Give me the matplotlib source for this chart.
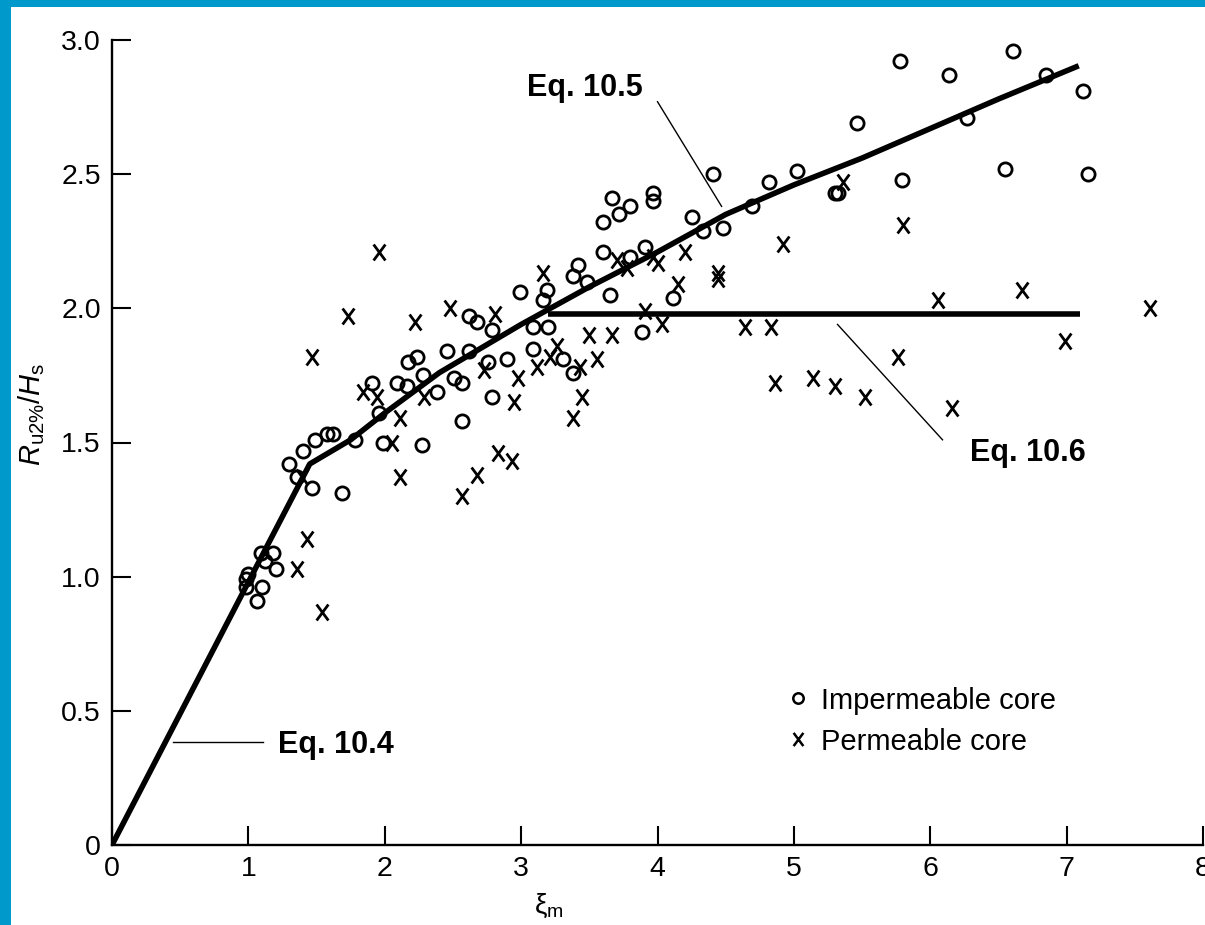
import matplotlib.pyplot as plt
from matplotlib.path import Path
from matplotlib.patches import Rectangle
from matplotlib.lines import Line2D

plt.rcParams['font.family'] = ['Liberation Sans', 'DejaVu Sans']
plt.rcParams['mathtext.fontset'] = 'custom'
plt.rcParams['mathtext.rm'] = 'Liberation Sans'
plt.rcParams['mathtext.it'] = 'Liberation Sans:italic'

# impermeable core runs (circles)
imp_x = [0.98, 1.00, 1.06, 1.10, 1.09, 1.18, 1.20, 0.98, 1.12, 1.30, 1.36, 1.47, 1.40, 1.49,
         1.58, 1.62, 1.69, 1.96, 1.91, 2.09, 2.16, 2.17, 2.24, 2.28, 2.46, 2.62, 1.99, 2.27,
         2.57, 2.57, 2.79, 2.76, 2.90, 2.62, 2.68, 2.79, 2.99, 3.19, 3.16, 3.09, 3.20, 3.09,
         3.31, 3.38, 3.42, 3.38, 3.48, 3.65, 3.60, 3.80, 3.91, 3.60, 3.67, 3.72, 3.80, 3.97,
         3.97, 4.11, 3.89, 4.25, 4.33, 4.48, 4.41, 4.69, 4.82, 5.02, 5.32, 5.30, 5.46, 5.78,
         5.79, 6.14, 6.27, 6.55, 6.61, 6.85, 7.12, 7.16, 1.78, 2.38, 2.51]
imp_y = [0.99, 1.01, 0.91, 0.96, 1.09, 1.09, 1.03, 0.96, 1.06, 1.42, 1.37, 1.33, 1.47, 1.51,
         1.53, 1.53, 1.31, 1.61, 1.72, 1.72, 1.71, 1.80, 1.82, 1.75, 1.84, 1.84, 1.50, 1.49,
         1.72, 1.58, 1.67, 1.80, 1.81, 1.97, 1.95, 1.92, 2.06, 2.07, 2.03, 1.93, 1.93, 1.85,
         1.81, 1.76, 2.16, 2.12, 2.10, 2.05, 2.21, 2.19, 2.23, 2.32, 2.41, 2.35, 2.38, 2.43,
         2.40, 2.04, 1.91, 2.34, 2.29, 2.30, 2.50, 2.38, 2.47, 2.51, 2.43, 2.43, 2.69, 2.92,
         2.48, 2.87, 2.71, 2.52, 2.96, 2.87, 2.81, 2.50, 1.51, 1.69, 1.74]

# permeable core runs (crosses)
perm_x = [1.47, 1.73, 1.96, 2.22, 2.48, 2.81, 3.16, 1.84, 1.94, 2.11, 2.05, 2.11, 2.68, 2.83,
          2.93, 2.95, 2.98, 2.73, 3.26, 3.12, 2.57, 3.45, 3.38, 3.70, 3.78, 3.97, 4.00, 4.20,
          4.44, 4.44, 4.15, 3.50, 3.67, 3.91, 4.03, 4.64, 4.83, 4.92, 5.36, 5.80, 6.06, 6.67,
          7.61, 6.99, 5.76, 4.86, 5.14, 5.30, 5.52, 6.16, 1.43, 1.36, 1.54, 1.39, 2.29, 3.43,
          3.56, 3.21]
perm_y = [1.82, 1.97, 2.21, 1.95, 2.00, 1.98, 2.13, 1.69, 1.67, 1.59, 1.50, 1.37, 1.38, 1.46,
          1.43, 1.65, 1.74, 1.77, 1.86, 1.78, 1.30, 1.67, 1.59, 2.18, 2.15, 2.19, 2.17, 2.21,
          2.13, 2.11, 2.09, 1.90, 1.90, 1.99, 1.94, 1.93, 1.93, 2.24, 2.47, 2.31, 2.03, 2.07,
          2.00, 1.88, 1.82, 1.72, 1.74, 1.71, 1.67, 1.63, 1.14, 1.03, 0.87, 1.37, 1.67, 1.78,
          1.81, 1.82]

# Eq. 10.4 / 10.5 curve (plunging then surging branch)
curve_x = [0, 1.0, 1.45, 1.75, 2.0, 2.4, 3.0, 3.5, 4.0, 4.5, 5.0, 5.5, 6.0, 6.5, 7.07]
curve_y = [0, 0.98, 1.42, 1.51, 1.61, 1.76, 1.94, 2.08, 2.21, 2.35, 2.46, 2.56, 2.67, 2.78, 2.90]

# Eq. 10.6 upper limit for permeable core
limit_x = [3.2, 7.1]
limit_y = [1.98, 1.98]

xticks = [0, 1, 2, 3, 4, 5, 6, 7, 8]
yticks = [0, 0.5, 1.0, 1.5, 2.0, 2.5, 3.0]
ytick_labels = ['0', '0.5', '1.0', '1.5', '2.0', '2.5', '3.0']

W, H = 1205, 925
fig = plt.figure(figsize=(W / 100, H / 100), dpi=100, facecolor='#0099cc')
# white page inside the blue frame
fig.patches.append(Rectangle((11 / W, 0), 1, 1 - 7 / H, transform=fig.transFigure,
                             facecolor='white', edgecolor='none', zorder=-5))
ax = fig.add_axes([112 / W, 80 / H, 1091 / W, 805 / H])
ax.set_facecolor('none')

cross = Path([(-0.37, -0.5), (0.37, 0.5), (-0.37, 0.5), (0.37, -0.5)],
             [Path.MOVETO, Path.LINETO, Path.MOVETO, Path.LINETO])

ax.plot(imp_x, imp_y, linestyle='none', marker='o', ms=9.5, mfc='none', mec='black',
        mew=2.0, zorder=3)
ax.plot(perm_x, perm_y, linestyle='none', marker=cross, ms=11.5, mec='black',
        mew=2.0, zorder=3)
ax.plot(curve_x, curve_y, color='black', lw=4.0, solid_joinstyle='round', zorder=4)
ax.plot(limit_x, limit_y, color='black', lw=4.0, solid_capstyle='butt', zorder=4)

# equation labels with leader lines
ax.plot([0.45, 1.11], [0.385, 0.385], color='black', lw=1)
ax.text(1.22, 0.373, 'Eq. 10.4', fontsize=22, fontweight='bold', va='center')
ax.plot([4.0, 4.47], [2.77, 2.38], color='black', lw=1)
ax.text(3.47, 2.82, 'Eq. 10.5', fontsize=22, fontweight='bold', va='center', ha='center')
ax.plot([5.32, 6.09], [1.94, 1.51], color='black', lw=1)
ax.text(6.29, 1.46, 'Eq. 10.6', fontsize=22, fontweight='bold', va='center')

handles = [Line2D([], [], linestyle='none', marker='o', ms=7.5, mfc='none', mec='black', mew=1.8),
           Line2D([], [], linestyle='none', marker=cross, ms=9.5, mec='black', mew=1.8)]
ax.legend(handles, ['Impermeable core', 'Permeable core'], loc='upper left',
          bbox_to_anchor=(0.606, 0.215), frameon=False, fontsize=21, borderpad=0,
          handlelength=0.7, handletextpad=0.45, labelspacing=0.45)

ax.set_xlim(0, 8)
ax.set_ylim(0, 3)
ax.set_xticks(xticks)
ax.set_yticks(yticks)
ax.set_yticklabels(ytick_labels)
ax.tick_params(direction='in', length=14, width=1.5, labelsize=20.5, pad=8)
for side in ['top', 'right']:
    ax.spines[side].set_visible(False)
for side in ['left', 'bottom']:
    ax.spines[side].set_linewidth(1.7)

ax.set_ylabel(r'$R_{\mathrm{u2\%}}/H_{\mathrm{s}}$', fontsize=21)
ax.yaxis.set_label_coords(-0.06, 0.535)
ax.set_xlabel('ξ$_{\\mathrm{m}}$', fontsize=20)
ax.xaxis.set_label_coords(0.40, -0.058)

fig.savefig('out.png', dpi=100, facecolor=fig.get_facecolor())
